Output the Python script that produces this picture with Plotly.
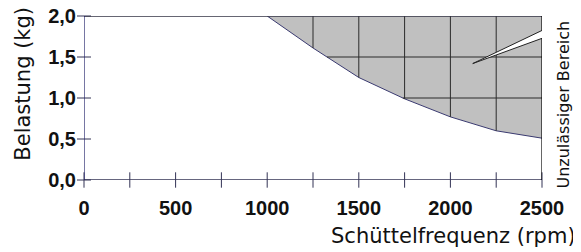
import numpy as np
import plotly.graph_objects as go

# Data
freq = [1000, 1250, 1500, 1750, 2000, 2250, 2500]
load = [2.0, 1.61, 1.25, 0.99, 0.77, 0.60, 0.51]
x_ticks = [0, 500, 1000, 1500, 2000, 2500]
x_tick_labels = ["0", "500", "1000", "1500", "2000", "2500"]
x_minor = [0, 250, 500, 750, 1000, 1250, 1500, 1750, 2000, 2250, 2500]
y_ticks = [0.0, 0.5, 1.0, 1.5, 2.0]
y_tick_labels = ["0,0", "0,5", "1,0", "1,5", "2,0"]
grid_x = [1250, 1500, 1750, 2000, 2250]
grid_y = [1.5, 1.0]
y_max = 2.0
x_max = 2500

fig = go.Figure()
fig.add_trace(go.Scatter(x=freq, y=[y_max] * len(freq), mode="lines",
                         line=dict(width=0), hoverinfo="skip", showlegend=False))
fig.add_trace(go.Scatter(x=freq, y=load, mode="lines", fill="tonexty",
                         fillcolor="#c0c0c0", line=dict(color="#3a3a70", width=1),
                         showlegend=False))

grid_col = "#2a2a2a"
for gx in grid_x:
    yv = float(np.interp(gx, freq, load))
    fig.add_shape(type="line", x0=gx, x1=gx, y0=yv, y1=y_max,
                  line=dict(color=grid_col, width=1))
for gy in grid_y:
    xv = float(np.interp(gy, load[::-1], freq[::-1]))
    fig.add_shape(type="line", x0=xv, x1=x_max, y0=gy, y1=gy,
                  line=dict(color=grid_col, width=1))

fig.add_shape(type="line", x0=0, x1=x_max, y0=y_max, y1=y_max,
              line=dict(color="#333344", width=1.5))
fig.add_shape(type="line", x0=0, x1=x_max, y0=0, y1=0,
              line=dict(color="#333355", width=1.5))
fig.add_shape(type="line", x0=x_max, x1=x_max, y0=0, y1=y_max,
              line=dict(color="#000000", width=1.2))
fig.add_shape(type="line", x0=0, x1=0, y0=0, y1=y_max,
              line=dict(color="#1a1a66", width=1.2))

# crossing tick marks
fig.add_trace(go.Scatter(x=x_minor, y=[0] * len(x_minor), mode="markers",
                         marker=dict(symbol="line-ns", size=11,
                                     line=dict(color="#333355", width=1)),
                         cliponaxis=False, hoverinfo="skip", showlegend=False))
fig.add_trace(go.Scatter(x=[0] * len(y_ticks), y=y_ticks, mode="markers",
                         marker=dict(symbol="line-ew", size=10,
                                     line=dict(color="#333355", width=1)),
                         cliponaxis=False, hoverinfo="skip", showlegend=False))

fig.add_shape(type="path", path="M 2122,1.42 L 2515,1.84 L 2515,1.74 Z",
              fillcolor="white", line=dict(color="#222222", width=1))

fig.add_annotation(text="Unzulässiger Bereich", textangle=-90, xref="paper", yref="paper",
                   x=1.047, y=0.457, xanchor="center", yanchor="middle", showarrow=False,
                   font=dict(family="DejaVu Sans", size=16, color="#111111"))
fig.add_annotation(text="Belastung (kg)", textangle=-90, xref="paper", yref="paper",
                   x=-0.134, y=0.585, xanchor="center", yanchor="middle", showarrow=False,
                   font=dict(family="DejaVu Sans", size=21, color="#111111"))
fig.add_annotation(text="Schüttelfrequenz (rpm)", xref="paper", yref="paper",
                   x=1.078, xanchor="right", y=-0.34, yanchor="middle", showarrow=False,
                   font=dict(family="DejaVu Sans", size=21, color="#111111"))

fig.update_layout(
    width=581, height=252, autosize=False,
    margin=dict(l=76, r=47, t=8, b=80, pad=0, autoexpand=False),
    paper_bgcolor="white", plot_bgcolor="white",
    xaxis=dict(range=[0, x_max], tickvals=x_ticks, ticktext=x_tick_labels,
               showgrid=False, zeroline=False, showline=False, ticks="",
               automargin=False, ticklabelstandoff=14, ticklabeloverflow="allow",
               tickfont=dict(family="Liberation Sans", size=20, color="#111111", weight="bold")),
    yaxis=dict(range=[0, y_max], tickvals=y_ticks, ticktext=y_tick_labels,
               showgrid=False, zeroline=False, showline=False, ticks="",
               automargin=False, ticklabelstandoff=7, ticklabeloverflow="allow",
               tickfont=dict(family="Liberation Sans", size=20, color="#111111", weight="bold")),
)

fig.write_html("out.html")
